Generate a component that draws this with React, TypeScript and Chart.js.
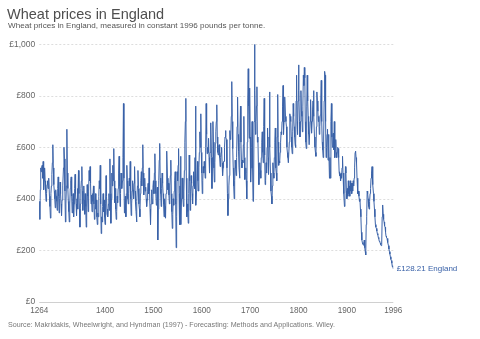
import React, { useEffect, useRef } from "react";
import { Chart, registerables } from "chart.js";

Chart.register(...registerables);

const START_YEAR = 1264;
const END_YEAR = 1996;

// Wheat price, constant 1996 pounds per tonne, one value per year
const PRICES_1264_1299 = [
  390, 320, 435, 520, 505, 525,
  530, 480, 545, 435, 470, 520, 470, 430, 390, 420,
  455, 470, 440, 470, 480, 410, 370, 325, 420, 450,
  495, 540, 610, 520, 455, 430, 400, 365, 435, 410,
];
const PRICES_1300s = [
  390, 355, 440, 485, 410, 345, 400, 465, 420, 380,
  335, 395, 400, 450, 520, 600, 555, 430, 310, 380,
  450, 670, 500, 440, 390, 350, 310, 380, 440, 470,
  485, 410, 345, 390, 420, 330, 380, 440, 495, 420,
  380, 335, 400, 440, 360, 510, 420, 360, 290, 380,
  440, 470, 525, 430, 355, 400, 450, 395, 340, 420,
  370, 290, 380, 455, 410, 350, 430, 510, 470, 525,
  460, 380, 415, 350, 420, 390, 450, 380, 320, 355,
  420, 360, 395, 330, 300, 345, 330, 410, 470, 440,
  530, 380, 265, 330, 310, 370, 420, 350, 395, 330,
];
const PRICES_1400s = [
  300, 380, 490, 410, 340, 360, 330, 380, 420, 355,
  555, 420, 305, 400, 500, 450, 530, 470, 595, 470,
  385, 440, 360, 320, 350, 410, 385, 440, 500, 565,
  450, 370, 420, 500, 460, 440, 470, 560, 770, 480,
  345, 380, 410, 330, 420, 530, 470, 400, 380, 420,
  480, 450, 545, 400, 335, 380, 430, 470, 435, 400,
  460, 525, 430, 380, 350, 310, 390, 450, 510, 440,
  380, 360, 330, 420, 470, 505, 450, 520, 610, 500,
  415, 450, 480, 430, 445, 400, 370, 395, 430, 460,
  420, 520, 430, 360, 300, 380, 435, 410, 380, 445,
];
const PRICES_1500s = [
  470, 420, 500, 575, 470, 420, 375, 410, 445, 240,
  360, 470, 550, 615, 480, 420, 370, 440, 500, 460,
  420, 380, 330, 400, 370, 325, 420, 510, 585, 480,
  435, 460, 415, 380, 450, 490, 550, 420, 350, 285,
  340, 400, 375, 430, 470, 505, 380, 210, 330, 505,
  470, 530, 595, 420, 300, 450, 565, 300, 400, 480,
  480, 400, 370, 430, 510, 620, 700, 790, 480, 330,
  380, 350, 305, 420, 570, 470, 355, 430, 490, 460,
  420, 380, 450, 505, 470, 440, 560, 760, 375, 430,
  480, 545, 470, 430, 520, 580, 660, 600, 730, 580,
];
const PRICES_1600s = [
  500, 420, 470, 525, 500, 545, 520, 480, 600, 770,
  650, 575, 600, 580, 635, 560, 500, 580, 620, 695,
  560, 440, 560, 700, 620, 520, 465, 540, 615, 660,
  700, 765, 640, 580, 570, 600, 610, 560, 525, 560,
  580, 600, 540, 490, 520, 545, 545, 600, 640, 665,
  640, 630, 520, 420, 335, 400, 450, 490, 665, 630,
  640, 720, 855, 700, 595, 520, 450, 400, 470, 550,
  520, 490, 560, 680, 795, 650, 585, 520, 480, 620,
  760, 620, 545, 520, 550, 540, 610, 720, 560, 475,
  500, 520, 470, 400, 620, 780, 905, 760, 635, 830,
];
const PRICES_1700s = [
  640, 465, 520, 600, 700, 520, 390, 395, 700, 1000,
  820, 650, 700, 760, 835, 620, 640, 540, 455, 500,
  540, 510, 480, 560, 620, 660, 580, 540, 680, 790,
  570, 455, 470, 540, 500, 600, 675, 560, 495, 640,
  815, 600, 500, 430, 410, 380, 450, 540, 500, 480,
  560, 620, 675, 520, 500, 470, 640, 805, 620, 530,
  545, 540, 580, 620, 660, 650, 700, 760, 840, 650,
  700, 780, 795, 720, 700, 680, 600, 580, 560, 540,
  540, 620, 730, 720, 700, 640, 600, 575, 660, 770,
  720, 680, 640, 610, 600, 780, 880, 700, 650, 780,
];
const PRICES_1800s = [
  920, 820, 700, 640, 700, 820, 740, 720, 660, 760,
  880, 840, 910, 870, 700, 620, 595, 760, 880, 780,
  720, 650, 610, 610, 700, 785, 700, 655, 700, 745,
  780, 820, 720, 640, 600, 580, 565, 680, 815, 780,
  740, 700, 720, 650, 680, 725, 780, 860, 700, 620,
  590, 560, 640, 780, 895, 880, 700, 560, 600, 650,
  670, 550, 650, 600, 480, 560, 480, 700, 770, 640,
  600, 650, 655, 590, 700, 560, 600, 630, 580, 560,
  580, 600, 595, 560, 505, 490, 495, 470, 500, 480,
  520, 565, 500, 470, 420, 370, 420, 525, 500, 430,
];
const PRICES_1900_1996 = [
  400, 440, 410, 470, 420, 450, 410, 470, 430, 460,
  420, 460, 430, 470, 450, 480, 520, 580, 585, 560,
  540, 480, 460, 420, 430, 410, 390, 400, 360, 330,
  270, 240, 230, 225, 220, 228, 240, 210, 195, 182,
  300, 330, 430, 420, 400, 370, 360, 390, 420, 440,
  480, 500, 525, 510, 455, 420, 390, 360, 330, 300,
  290, 285, 275, 265, 260, 250, 245, 235, 233, 228,
  222, 218, 222, 330, 376, 340, 320, 310, 295, 290,
  270, 255, 250, 246, 240, 230, 218, 205, 195, 185,
  175, 165, 160, 150, 136, 140, 128.21,
];

const PRICES = [
  ...PRICES_1264_1299,
  ...PRICES_1300s,
  ...PRICES_1400s,
  ...PRICES_1500s,
  ...PRICES_1600s,
  ...PRICES_1700s,
  ...PRICES_1800s,
  ...PRICES_1900_1996,
];

const X_TICKS = [1264, 1400, 1500, 1600, 1700, 1800, 1900, 1996];
const Y_TICKS = [0, 200, 400, 600, 800, 1000];
const Y_TICK_LABELS = ["£0", "£200", "£400", "£600", "£800", "£1,000"];
const SERIES_NAME = "England";

const LINE_COLOR = "#3a62a8";
const FONT = "'Liberation Sans', Arial, Helvetica, sans-serif";

export default function App() {
  const canvasRef = useRef<HTMLCanvasElement | null>(null);

  useEffect(() => {
    const canvas = canvasRef.current;
    if (!canvas) return;
    const points = PRICES.map((v, i) => ({ x: START_YEAR + i, y: v }));

    const gridPlugin = {
      id: "owidGrid",
      beforeDatasetsDraw(chart: any) {
        const { ctx, chartArea, scales } = chart;
        const y = scales.y;
        ctx.save();
        Y_TICKS.forEach((t) => {
          const py = Math.round(y.getPixelForValue(t)) + 0.5;
          ctx.beginPath();
          if (t === 0) {
            ctx.setLineDash([]);
            ctx.strokeStyle = "#d0d0d0";
          } else {
            ctx.setLineDash([2, 2]);
            ctx.strokeStyle = "#dddddd";
          }
          ctx.lineWidth = 1;
          ctx.moveTo(chartArea.left, py);
          ctx.lineTo(chartArea.right, py);
          ctx.stroke();
        });
        ctx.restore();
      },
      afterDatasetsDraw(chart: any) {
        const { ctx, scales } = chart;
        const last = PRICES[PRICES.length - 1];
        const px = scales.x.getPixelForValue(END_YEAR);
        const py = scales.y.getPixelForValue(last);
        ctx.save();
        ctx.font = `8px ${FONT}`;
        ctx.fillStyle = LINE_COLOR;
        ctx.textBaseline = "middle";
        ctx.textAlign = "left";
        ctx.fillText(`£${last.toFixed(2)} ${SERIES_NAME}`, px + 3.5, py);
        ctx.restore();
      },
    };

    const chart = new Chart(canvas, {
      type: "line",
      data: {
        datasets: [
          {
            label: SERIES_NAME,
            data: points,
            borderColor: LINE_COLOR,
            borderWidth: 1,
            pointRadius: 0,
            tension: 0,
            fill: false,
          },
        ],
      },
      options: {
        animation: false,
        responsive: false,
        devicePixelRatio: 1,
        layout: { padding: { left: 8, right: 86.7, top: 44.3, bottom: 21.2 } },
        plugins: {
          legend: { display: false },
          tooltip: { enabled: false },
          title: { display: false },
        },
        scales: {
          x: {
            type: "linear",
            min: START_YEAR,
            max: END_YEAR,
            afterBuildTicks: (s: any) => {
              s.ticks = X_TICKS.map((v) => ({ value: v }));
            },
            afterFit: (s: any) => {
              s.height = 16;
            },
            grid: { display: false, drawTicks: false },
            border: { display: false },
            ticks: {
              autoSkip: false,
              maxRotation: 0,
              padding: 4,
              color: "#666",
              font: { family: FONT, size: 8.2 },
              callback: (v: any) => String(v),
            },
          },
          y: {
            type: "linear",
            min: 0,
            max: 1000,
            afterBuildTicks: (s: any) => {
              s.ticks = Y_TICKS.map((v) => ({ value: v }));
            },
            afterFit: (s: any) => {
              s.width = 31.3;
            },
            grid: { display: false, drawTicks: false },
            border: { display: false },
            ticks: {
              padding: 4,
              color: "#666",
              font: { family: FONT, size: 8.5 },
              callback: (v: any) => Y_TICK_LABELS[Y_TICKS.indexOf(Number(v))] ?? "",
            },
          },
        },
      },
      plugins: [gridPlugin],
    });
    return () => chart.destroy();
  }, []);

  return (
    <div style={{ position: "fixed", left: 0, top: 0, width: 480, height: 339, background: "#fff", fontFamily: FONT }}>
      <canvas ref={canvasRef} width={480} height={339} style={{ position: "absolute", left: 0, top: 0, width: 480, height: 339 }} />
      <div style={{ position: "absolute", left: 7, top: 5, fontSize: 14.5, lineHeight: "18px", color: "#4f4f4f", whiteSpace: "nowrap" }}>
        Wheat prices in England
      </div>
      <div style={{ position: "absolute", left: 8, top: 21, fontSize: 8.1, lineHeight: "10px", color: "#555", whiteSpace: "nowrap" }}>
        Wheat prices in England, measured in constant 1996 pounds per tonne.
      </div>
      <div style={{ position: "absolute", left: 8, top: 321, fontSize: 7.15, lineHeight: "9px", color: "#777", whiteSpace: "nowrap" }}>
        Source: Makridakis, Wheelwright, and Hyndman (1997) - Forecasting: Methods and Applications. Wiley.
      </div>
    </div>
  );
}
